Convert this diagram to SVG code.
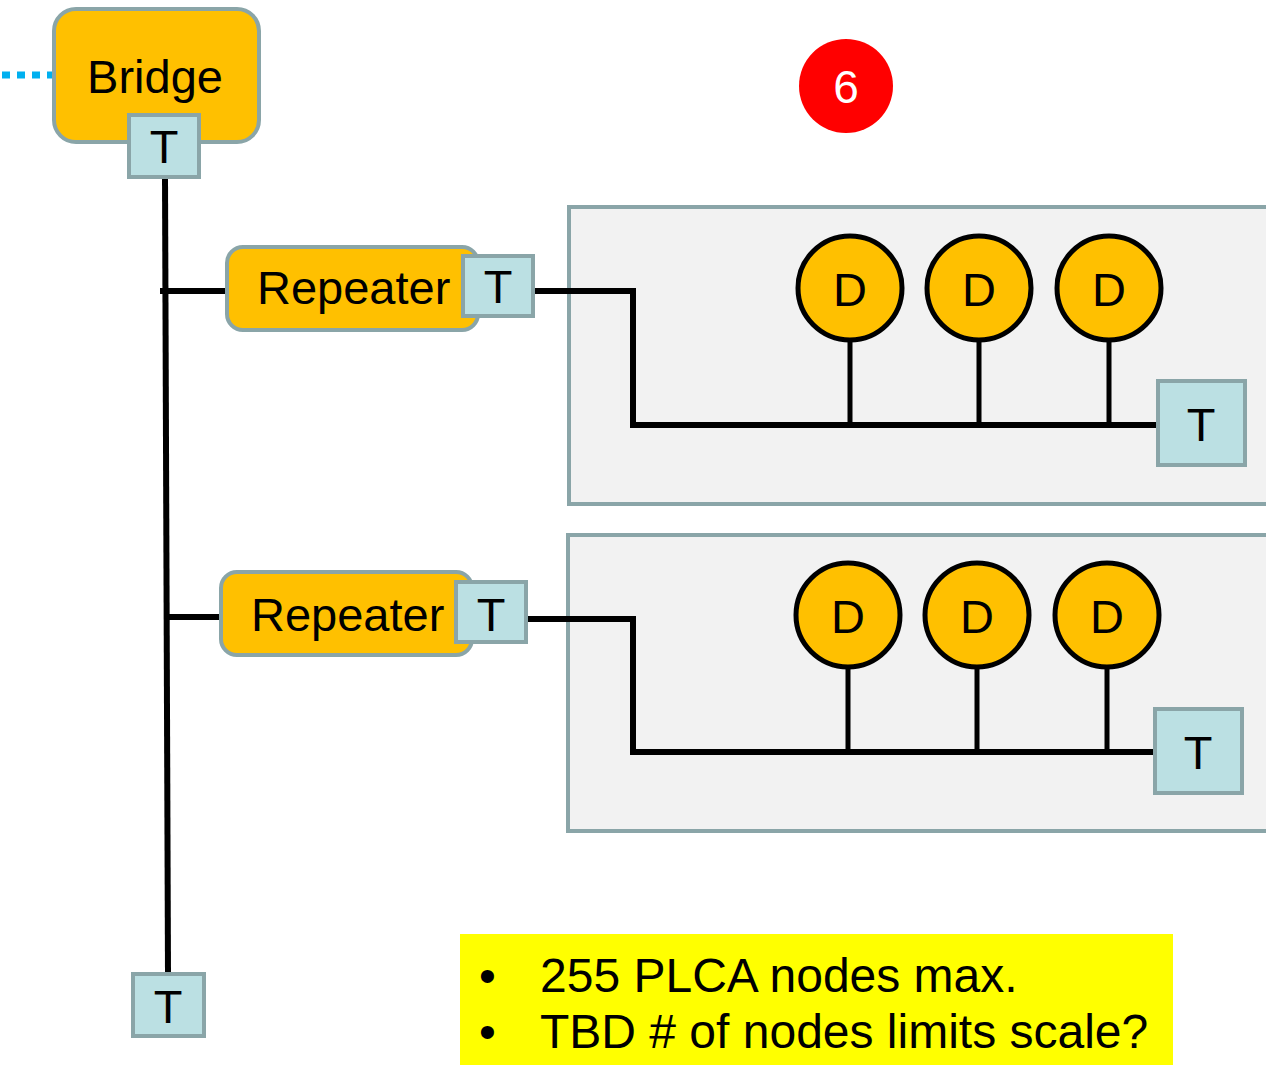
<svg xmlns="http://www.w3.org/2000/svg" width="1266" height="1065" viewBox="0 0 1266 1065">
<style>
text{font-family:"Liberation Sans",Arial,sans-serif;fill:#000}
.box{fill:#ffc000;stroke:#8aa5a8;stroke-width:4}
.term{fill:#bbe0e3;stroke:#8aa5a8;stroke-width:4}
.panel{fill:#f2f2f2;stroke:#8aa5a8;stroke-width:4}
.dev{fill:#ffc000;stroke:#000;stroke-width:5}
.w{stroke:#000;stroke-width:6;fill:none}
.s{stroke:#000;stroke-width:5;fill:none}
.lbl{font-size:47px}
.c{text-anchor:middle}
</style>
<rect width="1266" height="1065" fill="#fff"/>
<g id="panel1"><rect class="panel" x="569" y="207" width="702" height="297"/></g>
<g id="panel2"><rect class="panel" x="568" y="535" width="703" height="296"/></g>
<g id="connectors">
<line x1="2" y1="75" x2="52" y2="75" stroke="#00b0f0" stroke-width="7" stroke-dasharray="8,7"/>
<line class="w" x1="165" y1="177" x2="168" y2="975"/>
<line class="w" x1="160" y1="291" x2="228" y2="291"/>
<line class="w" x1="166" y1="617" x2="221" y2="617"/>
<polyline class="w" points="534,291 633,291 633,425 1158,425"/>
<polyline class="w" points="528,619 633,619 633,752 1155,752"/>
<line class="s" x1="850" y1="340" x2="850" y2="425"/>
<line class="s" x1="979" y1="340" x2="979" y2="425"/>
<line class="s" x1="1109" y1="340" x2="1109" y2="425"/>
<line class="s" x1="848" y1="667" x2="848" y2="752"/>
<line class="s" x1="977" y1="667" x2="977" y2="752"/>
<line class="s" x1="1107" y1="667" x2="1107" y2="752"/>
</g>
<g id="bridge">
<rect class="box" x="54" y="9" width="205" height="133" rx="22"/>
<text class="lbl c" x="155" y="93" font-size="48">Bridge</text>
</g>
<g id="bridge-t">
<rect class="term" x="129" y="115" width="70" height="62"/>
<text class="lbl c" x="164" y="163">T</text>
</g>
<g id="repeater1">
<rect class="box" x="227" y="247" width="251" height="83" rx="16"/>
<text class="lbl" x="257" y="304">Repeater</text>
</g>
<g id="repeater1-t">
<rect class="term" x="463" y="256" width="70" height="60"/>
<text class="lbl c" x="498" y="303">T</text>
</g>
<g id="repeater2">
<rect class="box" x="221" y="572" width="251" height="83" rx="16"/>
<text class="lbl" x="251" y="631">Repeater</text>
</g>
<g id="repeater2-t">
<rect class="term" x="456" y="582" width="70" height="60"/>
<text class="lbl c" x="491" y="631">T</text>
</g>
<g id="d1"><circle class="dev" cx="850" cy="288" r="52"/><text class="lbl c" x="850" y="306">D</text></g>
<g id="d2"><circle class="dev" cx="979" cy="288" r="52"/><text class="lbl c" x="979" y="306">D</text></g>
<g id="d3"><circle class="dev" cx="1109" cy="288" r="52"/><text class="lbl c" x="1109" y="306">D</text></g>
<g id="d4"><circle class="dev" cx="848" cy="615" r="52"/><text class="lbl c" x="848" y="633">D</text></g>
<g id="d5"><circle class="dev" cx="977" cy="615" r="52"/><text class="lbl c" x="977" y="633">D</text></g>
<g id="d6"><circle class="dev" cx="1107" cy="615" r="52"/><text class="lbl c" x="1107" y="633">D</text></g>
<g id="t-panel1">
<rect class="term" x="1158" y="381" width="87" height="84"/>
<text class="lbl c" x="1201" y="441">T</text>
</g>
<g id="t-panel2">
<rect class="term" x="1155" y="709" width="87" height="84"/>
<text class="lbl c" x="1198" y="769">T</text>
</g>
<g id="t-bottom">
<rect class="term" x="133" y="974" width="71" height="62"/>
<text class="lbl c" x="168" y="1023">T</text>
</g>
<g id="badge">
<circle cx="846" cy="86" r="47" fill="#ff0000"/>
<text class="c" x="846" y="103" font-size="46" style="fill:#fff">6</text>
</g>
<g id="note">
<rect x="460" y="934" width="713" height="131" fill="#ffff00"/>
<text x="479" y="992" font-size="48">•</text>
<text x="540" y="992" font-size="48">255 PLCA nodes max.</text>
<text x="479" y="1048" font-size="48">•</text>
<text x="540" y="1048" font-size="48">TBD # of nodes limits scale?</text>
</g>
</svg>
